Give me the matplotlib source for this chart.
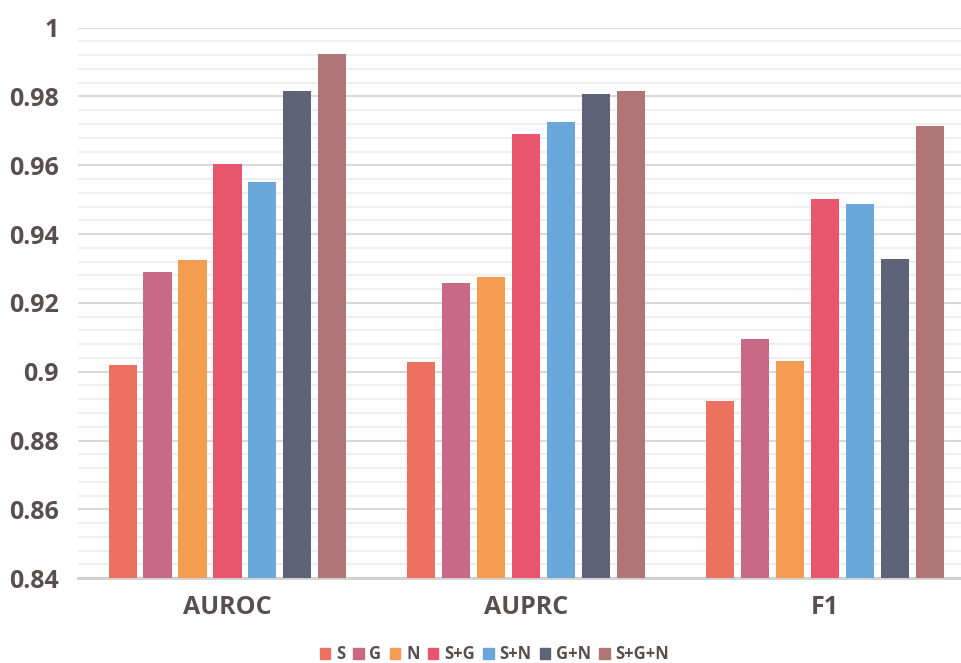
import numpy as np
import matplotlib.pyplot as plt
from matplotlib.patches import Patch

# Data
metrics = ['AUROC', 'AUPRC', 'F1']
series = ['S', 'G', 'N', 'S+G', 'S+N', 'G+N', 'S+G+N']
s_vals = [0.902, 0.9028, 0.8914]
g_vals = [0.929, 0.9257, 0.9095]
n_vals = [0.9324, 0.9275, 0.9031]
sg_vals = [0.9603, 0.9690, 0.9502]
sn_vals = [0.9551, 0.9725, 0.9487]
gn_vals = [0.9815, 0.9807, 0.9327]
sgn_vals = [0.9923, 0.9815, 0.9714]

colors = ['#EC7160', '#C86A85', '#F49C50', '#E8556D', '#6AA8DC', '#5F6377', '#B07575']
text_color = '#594f4f'

plt.rcParams['font.family'] = ['Open Sans', 'DejaVu Sans']

fig = plt.figure(figsize=(9.61, 6.63), dpi=100)
ax = fig.add_axes([0.0812, 0.128, 0.933, 0.8303])

all_vals = [s_vals, g_vals, n_vals, sg_vals, sn_vals, gn_vals, sgn_vals]
x = np.arange(len(metrics))
step = 0.117
width = 0.094
for i, vals in enumerate(all_vals):
    offset = (i - 3) * step
    ax.bar(x + offset, vals, width=width, color=colors[i], label=series[i], zorder=3)

ax.set_xlim(-0.5, 2.5)
ax.set_ylim(0.84, 1.0)
ax.set_yticks(np.arange(0.84, 1.0001, 0.02))
ax.set_yticklabels(['0.84', '0.86', '0.88', '0.9', '0.92', '0.94', '0.96', '0.98', '1'])
ax.set_yticks(np.arange(0.84, 1.0001, 0.004), minor=True)
ax.set_xticks(x)
ax.set_xticklabels(metrics)

ax.grid(axis='y', which='major', color='#d9d9d9', linewidth=1.5, zorder=0)
ax.grid(axis='y', which='minor', color='#efefef', linewidth=1.5, zorder=0)
ax.set_axisbelow(True)

for side in ['top', 'right', 'left']:
    ax.spines[side].set_visible(False)
ax.spines['bottom'].set_color('#d0d0d0')
ax.spines['bottom'].set_linewidth(2)

ax.tick_params(axis='both', which='both', length=0)
ax.tick_params(axis='y', pad=14, labelsize=18, labelcolor=text_color)
ax.tick_params(axis='x', pad=12, labelsize=18, labelcolor=text_color)
for lbl in ax.get_xticklabels() + ax.get_yticklabels():
    lbl.set_fontweight('bold')

handles = [Patch(color=c, label=s) for c, s in zip(colors, series)]
leg = fig.legend(handles=handles, loc='center', bbox_to_anchor=(0.5146, 0.013),
                 ncol=7, frameon=False, handlelength=0.62, handleheight=0.62,
                 handletextpad=0.35, columnspacing=0.5,
                 prop={'size': 12, 'weight': 'bold'})
for t in leg.get_texts():
    t.set_color(text_color)

fig.savefig('out.png', dpi=100)
